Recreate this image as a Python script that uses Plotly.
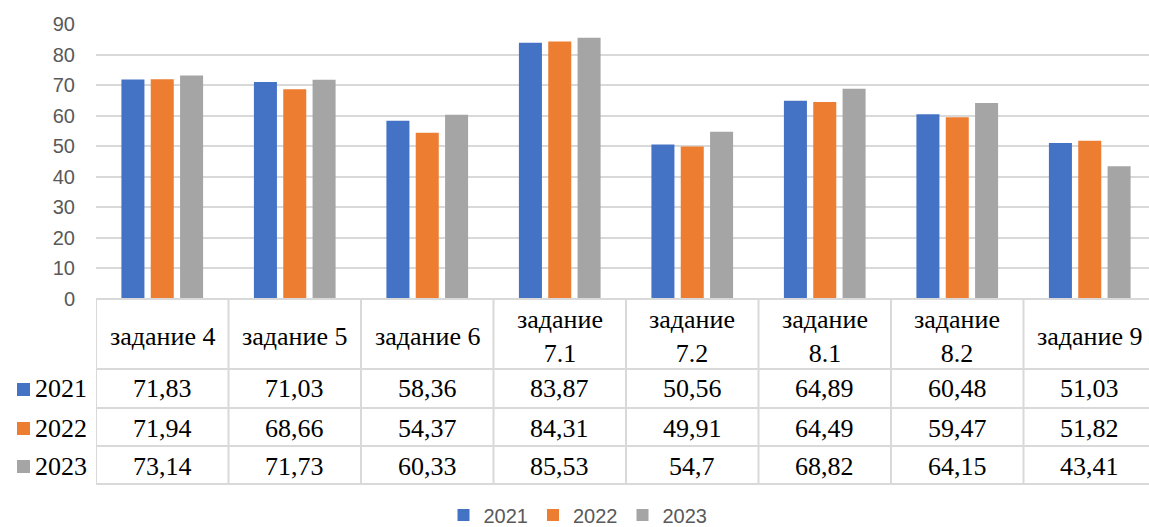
import plotly.graph_objects as go

categories = ["задание 4", "задание 5", "задание 6", "задание<br>7.1", "задание<br>7.2",
              "задание<br>8.1", "задание<br>8.2", "задание 9"]
years = ["2021", "2022", "2023"]
v2021 = [71.83, 71.03, 58.36, 83.87, 50.56, 64.89, 60.48, 51.03]
v2022 = [71.94, 68.66, 54.37, 84.31, 49.91, 64.49, 59.47, 51.82]
v2023 = [73.14, 71.73, 60.33, 85.53, 54.7, 68.82, 64.15, 43.41]
y_ticks = [0, 10, 20, 30, 40, 50, 60, 70, 80, 90]

colors = ["#4472C4", "#ED7D31", "#A5A5A5"]
series = [v2021, v2022, v2023]

W, H = 1149, 527
L, T, B = 96, 24, 228
plot_h = H - T - B
col_w = 132.5
grid = "#d9d9d9"
serif = "Liberation Serif, Times New Roman, DejaVu Serif, serif"
sans = "Liberation Sans, Arial, sans-serif"
tsize = 26


def py(p):
    # pixel row -> paper y
    return (H - B - p) / plot_h


def px_x(p):
    # pixel column -> x data coord
    return (p - L) / col_w - 0.5


x_right = -0.5 + (W - L) / col_w

fig = go.Figure()
for yr, vals, c in zip(years, series, colors):
    fig.add_trace(go.Bar(
        x=list(range(len(categories))), y=vals, name=yr,
        marker=dict(color=c, line=dict(width=0)),
    ))

shapes = []
line = dict(color=grid, width=2)
# table horizontal lines
shapes.append(dict(type="line", xref="x", yref="paper", x0=-0.5, x1=x_right + 1, y0=0, y1=0, line=line))
row_lines = [369, 408, 446, 484]
for r in row_lines:
    shapes.append(dict(type="line", xref="x", yref="paper", x0=px_x(8), x1=x_right + 1,
                       y0=py(r), y1=py(r), line=line))
# vertical lines
for k in range(len(categories) + 1):
    shapes.append(dict(type="line", xref="x", yref="paper", x0=k - 0.5, x1=k - 0.5,
                       y0=0, y1=py(484), line=line))
shapes.append(dict(type="line", xref="x", yref="paper", x0=px_x(8), x1=px_x(8),
                   y0=py(369), y1=py(484), line=line))

annotations = []
for k, cat in enumerate(categories):
    annotations.append(dict(x=k, y=py(336), xref="x", yref="paper", text=cat, showarrow=False,
                            font=dict(family=serif, size=tsize, color="black"), yanchor="middle"))
row_centers = [389, 428, 466]
for i, (yr, vals, c) in enumerate(zip(years, series, colors)):
    yc = row_centers[i]
    shapes.append(dict(type="rect", xref="paper", yref="paper",
                       x0=(17 - L) / (W - L), x1=(30 - L) / (W - L),
                       y0=py(yc - 6), y1=py(yc + 7), fillcolor=c, line=dict(width=0)))
    annotations.append(dict(x=(33 - L) / (W - L), y=py(yc), xref="paper", yref="paper", text=yr,
                            showarrow=False, xanchor="left", yanchor="middle",
                            font=dict(family=serif, size=tsize, color="black")))
    for k, v in enumerate(vals):
        annotations.append(dict(x=k, y=py(yc), xref="x", yref="paper",
                                text=str(v).replace(".", ","), showarrow=False, yanchor="middle",
                                font=dict(family=serif, size=tsize, color="black")))

fig.update_layout(
    width=W, height=H,
    margin=dict(l=L, r=0, t=T, b=B, autoexpand=False),
    paper_bgcolor="white", plot_bgcolor="white",
    barmode="group", bargap=0.336, bargroupgap=0.215,
    showlegend=True,
    legend=dict(orientation="h", x=(578 - L) / (W - L), xanchor="center",
                y=py(515), yanchor="middle", font=dict(family=sans, size=20, color="#595959"),
                itemwidth=30, traceorder="normal"),
    xaxis=dict(range=[-0.5, x_right], showticklabels=False, showgrid=False, zeroline=False,
               fixedrange=True),
    yaxis=dict(range=[0, 90], tickvals=y_ticks, showgrid=True, gridcolor=grid, gridwidth=1.5,
               zeroline=False, showline=False, ticklabelstandoff=20,
               tickfont=dict(family=sans, size=20, color="#595959")),
    shapes=shapes, annotations=annotations,
)

fig.write_html("out.html", config={"displayModeBar": False},
               post_script="document.body.style.margin='0';")
